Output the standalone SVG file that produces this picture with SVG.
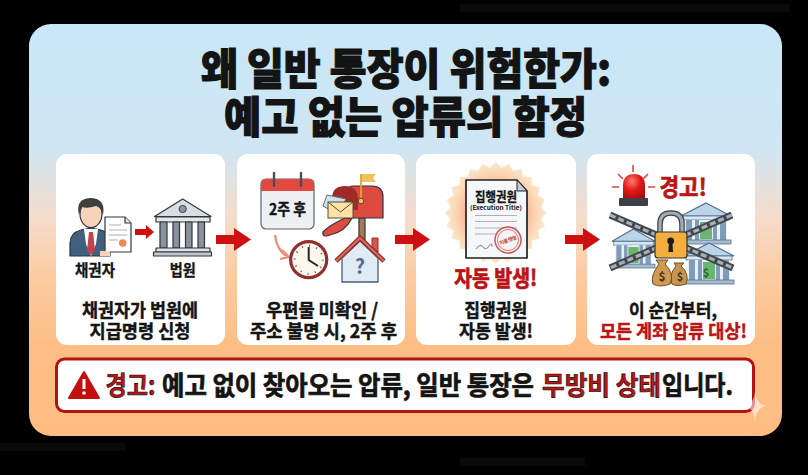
<svg xmlns="http://www.w3.org/2000/svg" xmlns:xlink="http://www.w3.org/1999/xlink" width="808" height="475" viewBox="0 0 808 475">
<style>
text{font-family:"Noto Sans CJK KR","Noto Sans",sans-serif;font-weight:700;fill:#141414;text-anchor:middle}
.title{font-size:43px;font-weight:900;stroke:#111;stroke-width:1.100px}
.lab{font-size:15.500px;stroke:#141414;stroke-width:.35px}
.cap{font-size:18.500px;stroke:#141414;stroke-width:.45px}
.red{fill:#bb1414;stroke:#bb1414}
.ban{font-size:26px;stroke:#111;stroke-width:.7px;text-anchor:start}
.card{fill:#fff}
.ol{stroke:#2e3640;stroke-width:1.2;stroke-linejoin:round}
.ln{stroke:#a9b2ba;stroke-width:1.2}
.ch1{fill:none;stroke:#43484e;stroke-width:7}
.ch2{fill:none;stroke:#a8b0b6;stroke-width:3.200;stroke-dasharray:6 3}
</style>
<defs>
<linearGradient id="bg" x1="0" y1="0" x2="0" y2="1">
<stop offset="0" stop-color="#c8e7f7"/><stop offset=".3" stop-color="#cfe6f3"/><stop offset=".47" stop-color="#f5dccb"/><stop offset=".62" stop-color="#fccba0"/><stop offset=".78" stop-color="#fdbe85"/><stop offset="1" stop-color="#fdbd82"/>
</linearGradient>
<radialGradient id="glow"><stop offset=".45" stop-color="#f9866a" stop-opacity=".85"/><stop offset="1" stop-color="#fbc69a" stop-opacity="0"/></radialGradient>
<radialGradient id="dome" cx=".4" cy=".3" r=".8"><stop offset="0" stop-color="#ff7a70"/><stop offset=".5" stop-color="#e01818"/><stop offset="1" stop-color="#a80c0c"/></radialGradient>
<path id="arrow" d="M0 7H18V0L35 11.500 18 23V16H0Z" fill="#d01010"/>
<g id="bluebank">
<path d="M25 0 50 13H0Z" fill="#bcd4e8" stroke="#4f6f92" stroke-width="1.200"/>
<rect x="2" y="13" width="46" height="4" fill="#dbe6ef" stroke="#4f6f92" stroke-width=".8"/>
<rect x="4" y="17" width="42" height="20" fill="#e9eff4"/>
<rect x="5" y="17" width="6" height="20" fill="#7f9dbb"/><rect x="39" y="17" width="6" height="20" fill="#7f9dbb"/><rect x="14" y="17" width="4" height="20" fill="#7f9dbb"/><rect x="32" y="17" width="4" height="20" fill="#7f9dbb"/>
<rect x="19" y="19" width="12" height="17" fill="#6cb56f"/>
<rect x="0" y="37" width="50" height="4" fill="#a9bccd" stroke="#4f6f92" stroke-width=".8"/>
</g>
<rect id="sq" x="459.700" y="177" width="72" height="72" fill="#fbe6c8"/>
</defs>
<rect width="808" height="475" fill="#000"/>
<g fill="#0a0a0a"><rect x="460" y="4" width="330" height="8"/><rect x="0" y="443" width="125" height="8"/><rect x="460" y="458" width="125" height="8"/></g>
<rect x="29" y="24" width="753" height="412" rx="22" fill="url(#bg)"/>
<g id="title">
<text class="title" x="406" y="85" textLength="410" lengthAdjust="spacingAndGlyphs">왜 일반 통장이 위험한가:</text>
<text class="title" x="405.500" y="133" textLength="363" lengthAdjust="spacingAndGlyphs">예고 없는 압류의 함정</text>
</g>
<g id="node-creditor">
<rect class="card" x="56" y="154" width="169" height="191" rx="11"/>
<path d="M70 256V243Q70 233 81 230L91 228 101 230Q108 232 110 238V256Z" fill="#41607f" class="ol"/>
<path d="M84 229H98L96 244 91 256 86 244Z" fill="#fff"/>
<path d="M89 232H93L95 250 91 255 87 250Z" fill="#c4434a"/>
<ellipse cx="91" cy="214" rx="11" ry="13.500" fill="#f8d3b8" class="ol"/>
<path d="M79 215Q75 199 90 198 106 198 103 215 101 207 96 206 87 209 82 207Z" fill="#3f3f3f"/>
<path d="M105 217H125L131 223V252H105Z" fill="#fff" class="ol"/>
<path d="M125 217V223H131" fill="#dfe5ea" class="ol"/>
<path class="ln" d="M109 225H121M109 230H127M109 235H127M109 240H118"/>
<circle cx="122.700" cy="243" r="3.800" fill="#ef8a55"/>
<path d="M100 251H110V256H100Z" fill="#f8d3b8"/>
<text class="lab" x="95" y="276" textLength="40" lengthAdjust="spacingAndGlyphs">채권자</text>
<text class="cap" x="140" y="317" textLength="116" lengthAdjust="spacingAndGlyphs">채권자가 법원에</text>
<text class="cap" x="140" y="338" textLength="101" lengthAdjust="spacingAndGlyphs">지급명령 신청</text>
</g>
<g id="node-court">
<path d="M182.700 199 211 216.500H154.500Z" fill="#d8dde2" class="ol"/>
<circle cx="182.700" cy="209" r="3.600" fill="#8e979f" stroke="#3a4149"/>
<rect x="156" y="217" width="54" height="5" fill="#e4e7ea" class="ol"/>
<g fill="#8a939c" class="ol"><rect x="160" y="222" width="7" height="26"/><rect x="173" y="222" width="6.500" height="26"/><rect x="185.500" y="222" width="6.500" height="26"/><rect x="198" y="222" width="6.500" height="26"/></g>
<rect x="156" y="248" width="54" height="4" fill="#dfe3e6" class="ol"/>
<rect x="153.500" y="252" width="58" height="4" fill="#c2c8cd" class="ol"/>
<text class="lab" x="182.800" y="276" textLength="26" lengthAdjust="spacingAndGlyphs">법원</text>
</g>
<g id="node-mail">
<rect class="card" x="237" y="154" width="168" height="191" rx="11"/>
<rect x="261" y="179" width="53" height="50" rx="5" fill="#eef1f4" stroke="#5a6570" stroke-width="1.200"/>
<path d="M261 191V184Q261 179 266 179H309Q314 179 314 184V191Z" fill="#e2493f"/>
<g fill="none" stroke="#47505a" stroke-width="2.400" stroke-linecap="round"><path d="M274 173V186"/><path d="M301 173V186"/></g>
<text x="287.500" y="215" font-size="15.500" textLength="37" lengthAdjust="spacingAndGlyphs" style="stroke:#141414;stroke-width:.4">2주 후</text>
<path d="M275 235Q277 251 287 256" fill="none" stroke="#ea8f7c" stroke-width="2.200"/>
<path d="M282 250 289 257 280 259" fill="none" stroke="#ea8f7c" stroke-width="2.200"/>
<circle cx="308.700" cy="259.700" r="18" fill="#fdf8ee" stroke="#93302f" stroke-width="3.200"/>
<path d="M308.700 247V260L318 266" fill="none" stroke="#23272c" stroke-width="2"/>
<circle cx="308.700" cy="259.700" r="14" fill="none" stroke="#555" stroke-width="2" stroke-dasharray="1 6.330"/>
<rect x="359" y="218" width="6" height="22" fill="#a87a4f" class="ol"/>
<path d="M345 218Q328 226 323 232 322 238 330 235 345 232 352 218Z" fill="#e04a40" class="ol"/>
<path d="M353 186H372Q383 186 383 197V218H345V200Q345 186 353 186Z" fill="#dd4b40" class="ol"/>
<path d="M332 197Q333 186 345 186 358 186 358 200V210H332Z" fill="#9e2b26"/>
<path d="M327 195 346 199 338 214 323 206Z" fill="#cfe2f0" stroke="#53708c"/>
<rect x="328" y="202" width="25" height="16" fill="#fbe3a8" stroke="#5a4a2e"/>
<path d="M328 202 340.500 212 353 202" fill="none" stroke="#5a4a2e"/>
<path d="M361 174H376L373 178 376 182H361Z" fill="#f0c25e"/>
<path d="M361 174V200" stroke="#d8a838" stroke-width="1.800"/>
<circle cx="361" cy="201" r="2.800" fill="#f0c25e" stroke="#5a4a2e"/>
<path d="M342 258 360 241 378 258V282H342Z" fill="#e0ebf4" stroke="#47607c" stroke-width="1.300"/>
<path d="M372 238H378V252L372 247Z" fill="#d9574a" stroke="#8a3029"/>
<path d="M336 261 360 238 384 261" fill="none" stroke="#8f3029" stroke-width="4.600"/>
<path d="M336 261 360 238 384 261" fill="none" stroke="#e0645a" stroke-width="2.200"/>
<text x="360" y="274" font-size="20" style="fill:#4f6f96">?</text>
<text class="cap" x="322" y="317" textLength="112" lengthAdjust="spacingAndGlyphs">우편물 미확인 /</text>
<text class="cap" x="323.500" y="338" textLength="147" lengthAdjust="spacingAndGlyphs">주소 불명 시, 2주 후</text>
</g>
<g id="node-title-doc">
<rect class="card" x="416" y="154" width="160" height="191" rx="11"/>
<use xlink:href="#sq"/><use xlink:href="#sq" transform="rotate(15 495.700 213)"/><use xlink:href="#sq" transform="rotate(30 495.700 213)"/><use xlink:href="#sq" transform="rotate(45 495.700 213)"/><use xlink:href="#sq" transform="rotate(60 495.700 213)"/><use xlink:href="#sq" transform="rotate(75 495.700 213)"/>
<circle cx="495.700" cy="213" r="45" fill="#fbe6c8"/>
<circle cx="495.700" cy="213" r="50" fill="url(#glow)"/>
<path d="M466 180H517L527 191V258H466Z" fill="#f6f7f8" stroke="#1f2227" stroke-width="1.700" stroke-linejoin="round"/>
<path d="M517 180V191H527Z" fill="#c6ccd2" stroke="#1f2227"/>
<text x="496" y="201" font-size="13" textLength="42" lengthAdjust="spacingAndGlyphs" style="stroke:#141414;stroke-width:.3">집행권원</text>
<text x="496" y="209.500" font-size="6" textLength="52" lengthAdjust="spacingAndGlyphs">(Execution Title)</text>
<path class="ln" d="M475 215.500H517M475 221.500H517M475 228H517M475 234H498"/>
<path d="M476 249Q480 243 483 247T489 246 492 247" fill="none" stroke="#8d949b" stroke-width="1.100"/>
<g transform="rotate(-20 508 240)"><circle cx="508" cy="240" r="13" fill="#fbeeee" fill-opacity=".6" stroke="#c4585a" stroke-width="1.500"/><circle cx="508" cy="240" r="10.500" fill="none" stroke="#c4585a" stroke-width=".7"/><text x="508" y="242" font-size="5" textLength="18" style="fill:#b53a3c">지불 명령</text></g>
<text x="495.700" y="285.500" font-size="22" class="red" textLength="83" lengthAdjust="spacingAndGlyphs" style="stroke-width:.7">자동 발생!</text>
<text class="cap" x="495.700" y="317" textLength="63" lengthAdjust="spacingAndGlyphs">집행권원</text>
<text class="cap" x="496" y="338" textLength="74" lengthAdjust="spacingAndGlyphs">자동 발생!</text>
</g>
<g id="node-seizure">
<rect class="card" x="587" y="154" width="168" height="191" rx="11"/>
<path d="M623 198V186Q623 174 634 174 645 174 645 186V198Z" fill="url(#dome)"/>
<rect x="619" y="198" width="29" height="8" rx="1" fill="#3d3f44"/>
<path d="M633 165V172M618 174 623 179M648 174 643 179M612 187H619M648 187H655" stroke="#d94a3f" stroke-width="1.600" fill="none"/>
<text x="683" y="195.500" font-size="23.500" class="red" textLength="47" lengthAdjust="spacingAndGlyphs" style="stroke-width:.7">경고!</text>
<use xlink:href="#bluebank" x="681" y="203"/>
<use xlink:href="#bluebank" transform="translate(612 229) scale(.86 .95)"/>
<use xlink:href="#bluebank" x="684" y="243"/>
<text x="706" y="277" font-size="11" style="fill:#1f6a2c">$</text>
<path class="ch1" d="M610 215 733 268M732 215 610 268"/>
<path class="ch2" d="M610 215 733 268M732 215 610 268"/>
<path d="M660 233V224Q660 213 671 213 682 213 682 224V233" fill="none" stroke="#3a4047" stroke-width="5.600"/>
<path d="M660 233V224Q660 213 671 213 682 213 682 224V233" fill="none" stroke="#a3abb2" stroke-width="3.200"/>
<rect x="655" y="232" width="32" height="26" rx="3" fill="#f3ae3e" stroke="#30343a" stroke-width="1.200"/>
<circle cx="670.700" cy="241" r="3.400" fill="#1d1d1d"/><path d="M669 242H672.400L673 252H668.400Z" fill="#1d1d1d"/>
<path d="M676 266Q668 276 672 284Q677 287 686 284 690 274 681 266L684 263 674 263Z" fill="#c9944f" stroke="#6e4f25"/>
<path d="M659 264Q650 276 653 284 660 288 670 284 675 274 665 264L668 260 656 260Z" fill="#d09a55" stroke="#6e4f25"/>
<text x="662" y="281" font-size="12" style="fill:#4c3314">$</text><text x="680" y="281" font-size="11" style="fill:#4c3314">$</text>
<text class="cap" x="673" y="317" textLength="88" lengthAdjust="spacingAndGlyphs">이 순간부터,</text>
<text class="cap red" x="673.500" y="338" textLength="147" lengthAdjust="spacingAndGlyphs">모든 계좌 압류 대상!</text>
</g>
<g id="connectors">
<path d="M135 229H146V225L154 232 146 239V235H135Z" fill="#d01010"/>
<use xlink:href="#arrow" x="216" y="228"/>
<use xlink:href="#arrow" x="395" y="228"/>
<use xlink:href="#arrow" x="565" y="228"/>
</g>
<g id="warning-banner">
<rect x="56.500" y="359" width="697" height="52.500" rx="8" fill="#fff" stroke="#b41212" stroke-width="3"/>
<path d="M84 372 99 398H69Z" fill="#c40f0f" stroke="#c40f0f" stroke-width="2" stroke-linejoin="round"/>
<rect x="82.500" y="379" width="3" height="10" fill="#fff"/><circle cx="84" cy="393" r="1.800" fill="#fff"/>
<text class="ban red" x="105.500" y="395" textLength="50" lengthAdjust="spacingAndGlyphs">경고:</text>
<text class="ban" x="162" y="395" textLength="372" lengthAdjust="spacingAndGlyphs">예고 없이 찾아오는 압류, 일반 통장은</text>
<text class="ban red" x="542" y="395" textLength="119" lengthAdjust="spacingAndGlyphs">무방비 상태</text>
<text class="ban" x="662" y="395" textLength="71" lengthAdjust="spacingAndGlyphs">입니다.</text>
</g>
<path id="sparkle" d="M755 392Q756 404 766 406 756 408 755 421 754 408 745 406 754 404 755 392Z" fill="#fff" fill-opacity=".55"/>
</svg>
